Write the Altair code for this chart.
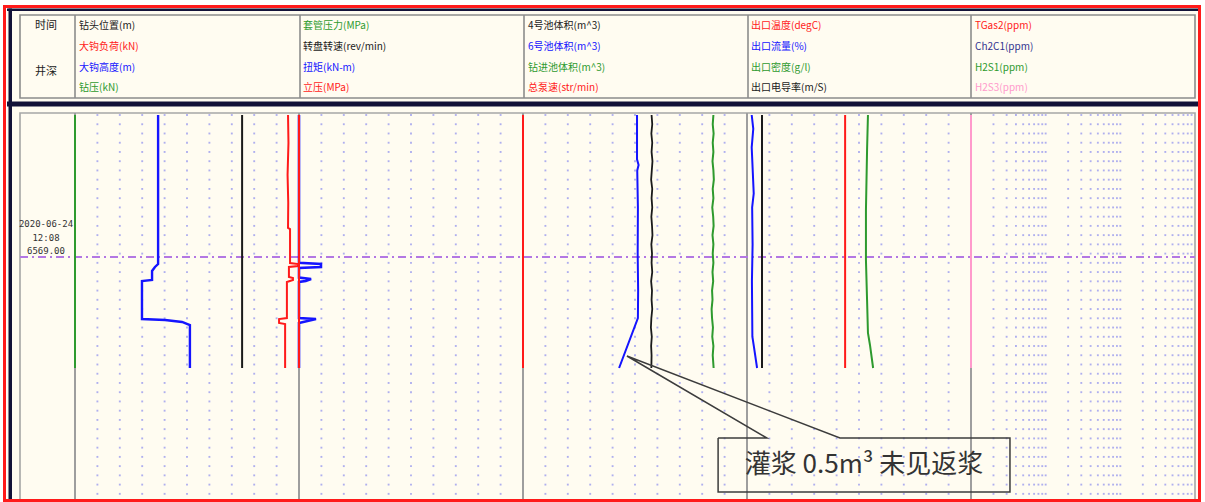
import altair as alt
import pandas as pd
import numpy as np

W, H = 1205, 502
# ---- layout: one grid division = 22.4 px across, one row = 9.24 px down ----
X0, DX = 75.0, 22.4
Y0, DY = 115.0, 9.24
def xd(px): return (px - X0) / DX
def yr(px): return (px - Y0) / DY

# ---------------- data (x in grid divisions, y in grid rows) ----------------
END = 27.38      # last recorded row
NOW = 15.37      # 2020-06-24 12:08, 6569.00 m

# track 1
wob_x = [0.0, 0.0];                       wob_y = [0, END]                     # 钻压
hkh_x = [3.71, 3.71, 3.57, 3.44, 3.44, 2.99, 2.99, 4.02, 4.78, 5.13, 5.13]      # 大钩高度
hkh_y = [0, 16.13, 16.45, 16.88, 17.86, 17.97, 22.08, 22.19, 22.40, 22.73, END]
bit_x = [7.46, 7.46];                     bit_y = [0, END]                     # 钻头位置
hkl_x = [9.51, 9.53, 9.49, 9.52, 9.51, 9.60, 9.60, 9.96, 9.96, 9.55, 9.55, 9.73, 9.73, 9.46, 9.46, 9.11, 9.11, 9.38, 9.38]
hkl_y = [0, 3.0, 6.5, 9.5, 12.23, 12.34, 16.02, 16.13, 16.34, 16.45, 17.53, 17.64, 17.86, 18.07, 21.97, 22.08, 22.51, 22.62, END]
# track 2
spp_x = [10.0, 10.0];                     spp_y = [0, END]                     # 立压
trq_x = [10.0, 10.0, 10.98, 10.98, 10.0, 10.0, 10.54, 10.30, 10.0, 10.0, 10.76, 10.0, 10.0]
trq_y = [0, 16.0, 16.13, 16.45, 16.56, 17.60, 17.75, 17.97, 18.07, 21.97, 22.08, 22.51, END]
# track 3
spm_x = [20.0, 20.0];                     spm_y = [0, END]                     # 总泵速
p6_x = [25.09, 25.09, 25.16, 25.10, 25.13, 25.12, 25.14, 25.13, 24.29]          # 6号池体积
p6_y = [0, 4.8, 5.4, 6.0, 10.0, 15.0, 19.0, 21.97, END]
rows28 = list(range(27)) + [END]
p4_x = [25.74, 25.77, 25.73, 25.77, 25.74, 25.78, 25.75, 25.72, 25.77, 25.74, 25.77, 25.73, 25.76, 25.78,
        25.73, 25.76, 25.74, 25.77, 25.72, 25.76, 25.74, 25.77, 25.73, 25.71, 25.75, 25.72, 25.74, 25.73]  # 4号池体积
pd_x = [28.50, 28.47, 28.51, 28.47, 28.50, 28.46, 28.50, 28.52, 28.47, 28.50, 28.45, 28.49, 28.51, 28.46,
        28.50, 28.47, 28.50, 28.46, 28.49, 28.44, 28.46, 28.42, 28.44, 28.48, 28.45, 28.50, 28.47, 28.51]  # 钻进池体积
# track 4
flo_x = [30.21, 30.28, 30.21, 30.30, 30.23, 30.25, 30.22, 30.24, 30.31, 30.45]  # 出口流量
flo_y = [0, 1.5, 3.5, 8.5, 10.0, 14.0, 18.0, 24.0, 25.1, END]
con_x = [30.67, 30.67];                   con_y = [0, END]                     # 出口电导率
tmp_x = [34.38, 34.38];                   tmp_y = [0, END]                     # 出口温度
den_x = [35.40, 35.36, 35.31, 35.31, 35.36, 35.40, 35.49, 35.63]                # 出口密度
den_y = [0, 3.79, 10.28, 15.69, 20.02, 23.59, 24.89, END]
# track 5
h2s3_x = [40.0, 40.0];                    h2s3_y = [0, END]                    # H2S3

# header labels
col_labels = [
    ["钻头位置(m)", "大钩负荷(kN)", "大钩高度(m)", "钻压(kN)"],
    ["套管压力(MPa)", "转盘转速(rev/min)", "扭矩(kN-m)", "立压(MPa)"],
    ["4号池体积(m^3)", "6号池体积(m^3)", "钻进池体积(m^3)", "总泵速(str/min)"],
    ["出口温度(degC)", "出口流量(%)", "出口密度(g/l)", "出口电导率(m/S)"],
    ["TGas2(ppm)", "Ch2C1(ppm)", "H2S1(ppm)", "H2S3(ppm)"],
]
stamp_labels = ["2020-06-24", "12:08", "6569.00"]
note_text = "灌浆 0.5m³ 未见返浆"
callout_x = [28.71, 30.89, 24.64, 34.15, 41.74, 41.74, 28.71, 28.71]
callout_y = [34.96, 34.96, 26.08, 34.96, 34.96, 40.80, 40.80, 34.96]

# ---------------- styles ----------------
RED, BLUE, GREEN, BLACK = "#FF1A1A", "#1414FF", "#2E9A2E", "#1A1A1A"
NAVY_T, PINK = "#33338F", "#FF9ACC"
col_colors = [
    [BLACK, RED, BLUE, GREEN],
    [GREEN, BLACK, BLUE, RED],
    [BLACK, BLUE, GREEN, RED],
    [RED, BLUE, GREEN, BLACK],
    [RED, NAVY_T, GREEN, PINK],
]
CREAM = "#FFFCF1"
FRAME_NAVY = "#121238"
GRID_GRAY = "#9E9E9E"
DOT = "#ABABEE"
DASH = "#B377E3"

xs = alt.Scale(domain=[xd(0), xd(W)], nice=False, zero=False)
ys = alt.Scale(domain=[yr(0), yr(H)], nice=False, zero=False, reverse=True)
def X(f): return alt.X(f, type="quantitative", scale=xs, axis=None)
def Y(f): return alt.Y(f, type="quantitative", scale=ys, axis=None)

layers = []

# ---------- frame ----------
def rects(items):
    return pd.DataFrame([dict(x=xd(a), y=yr(b), x2=xd(c), y2=yr(d), c=col) for a, b, c, d, col in items])

fills = rects([
    (7, 8, 1198, 501, CREAM),
    (7, 8.5, 1198, 11, FRAME_NAVY),
    (8.5, 8.5, 12, 502, FRAME_NAVY),
    (7, 101.5, 1198, 106.5, FRAME_NAVY),
])
layers.append(alt.Chart(fills).mark_rect().encode(
    x=X("x"), x2="x2", y=Y("y"), y2="y2", color=alt.Color("c:N", scale=None)))

boxes = rects([
    (20, 15, 1195, 98, "#8C8C8C"),
    (20, 113, 1195, 530, "#A6A6A6"),
])
layers.append(alt.Chart(boxes).mark_rect(filled=False, strokeWidth=1.6).encode(
    x=X("x"), x2="x2", y=Y("y"), y2="y2", stroke=alt.Color("c:N", scale=None)))

div_df = pd.DataFrame(dict(x=[xd(p) for p in [75, 300, 524, 748, 971]], y=yr(15), y2=yr(98)))
layers.append(alt.Chart(div_df).mark_rule(color="#8C8C8C", strokeWidth=1.6).encode(
    x=X("x"), y=Y("y"), y2="y2"))

# ---------- dotted grid ----------
nrows = int(np.floor(yr(H))) + 1
lin_cols = [k for k in range(1, 40) if k % 10 != 0]
log_cols = [40 + (d + np.log10(n)) * 10 / 3 for d in range(3) for n in range(2, 11) if not (d == 2 and n == 10)]
dots = pd.DataFrame([dict(x=c, y=r) for c in lin_cols + log_cols for r in range(nrows)])
layers.append(alt.Chart(dots).mark_square(size=3.5, color=DOT, opacity=0.95).encode(x=X("x"), y=Y("y")))

# ---------- track boundary lines ----------
tl = pd.DataFrame(dict(x=[0, 10, 20, 30, 40], y=yr(113), y2=yr(H)))
layers.append(alt.Chart(tl).mark_rule(color=GRID_GRAY, strokeWidth=2).encode(x=X("x"), y=Y("y"), y2="y2"))

# ---------- current time marker ----------
now_df = pd.DataFrame(dict(x=[xd(20)], x2=[xd(1195)], y=[NOW]))
layers.append(alt.Chart(now_df).mark_rule(color=DASH, strokeWidth=1.8, strokeDash=[8, 4, 2, 4]).encode(
    x=X("x"), x2="x2", y=Y("y")))

# ---------- curves ----------
def curve(xv, yv, color, width=2.0):
    df = pd.DataFrame(dict(x=xv, y=yv, i=range(len(xv))))
    return alt.Chart(df).mark_line(color=color, strokeWidth=width, interpolate="linear").encode(
        x=X("x"), y=Y("y"), order=alt.Order("i:Q"))

layers += [
    curve(wob_x, wob_y, GREEN),
    curve(hkh_x, hkh_y, BLUE, 2.4),
    curve(bit_x, bit_y, BLACK),
    curve(trq_x, trq_y, BLUE, 2.6),
    curve(hkl_x, hkl_y, RED),
    curve(spp_x, spp_y, RED),
    curve(spm_x, spm_y, RED),
    curve(p6_x, p6_y, BLUE),
    curve(p4_x, rows28, BLACK, 1.8),
    curve(pd_x, rows28, GREEN),
    curve(flo_x, flo_y, BLUE),
    curve(con_x, con_y, BLACK),
    curve(tmp_x, tmp_y, RED),
    curve(den_x, den_y, GREEN),
    curve(h2s3_x, h2s3_y, PINK),
]

# ---------- callout ----------
call_df = pd.DataFrame(dict(x=callout_x, y=callout_y, i=range(len(callout_x))))
layers.append(alt.Chart(call_df).mark_line(color="#3C3C3C", strokeWidth=1.5).encode(
    x=X("x"), y=Y("y"), order=alt.Order("i:Q")))
note_df = pd.DataFrame(dict(x=[(callout_x[0] + callout_x[4]) / 2], y=[(callout_y[0] + callout_y[5]) / 2], t=[note_text]))
layers.append(alt.Chart(note_df).mark_text(font="Noto Sans CJK SC", fontSize=26, color="#333333",
                                           align="center", baseline="middle").encode(
    x=X("x"), y=Y("y"), text="t:N"))

# ---------- header text ----------
col_left_px = [79, 303, 528, 751, 975]
row_px = [26, 47, 68, 88]
hdr = pd.DataFrame([dict(x=xd(col_left_px[c]), y=yr(row_px[r]), t=col_labels[c][r], c=col_colors[c][r])
                    for c in range(5) for r in range(4)])
layers.append(alt.Chart(hdr).mark_text(font="Noto Sans CJK SC", fontSize=10, align="left", baseline="middle").encode(
    x=X("x"), y=Y("y"), text="t:N", color=alt.Color("c:N", scale=None)))

side = pd.DataFrame(dict(x=[xd(46), xd(46)], y=[yr(26), yr(72)], t=["时间", "井深"]))
layers.append(alt.Chart(side).mark_text(font="Noto Sans CJK SC", fontSize=11, color="#222222",
                                        align="center", baseline="middle").encode(
    x=X("x"), y=Y("y"), text="t:N"))

stamp = pd.DataFrame(dict(x=[xd(46)] * 3, y=[yr(224), yr(238), yr(251)], t=stamp_labels))
layers.append(alt.Chart(stamp).mark_text(font="DejaVu Sans Mono", fontSize=9, color="#333333",
                                         align="center", baseline="middle").encode(
    x=X("x"), y=Y("y"), text="t:N"))

# ---------- outer red border ----------
red_df = rects([(4.5, 6.5, 1199.5, 500.5, RED)])
layers.append(alt.Chart(red_df).mark_rect(filled=False, strokeWidth=3).encode(
    x=X("x"), x2="x2", y=Y("y"), y2="y2", stroke=alt.Color("c:N", scale=None)))

chart = alt.layer(*layers).properties(
    width=W, height=H, padding=0, autosize=alt.AutoSizeParams(type="none"), background="white"
).configure_view(stroke=None)

chart.save("out.html", embed_options={"renderer": "svg", "actions": False})
